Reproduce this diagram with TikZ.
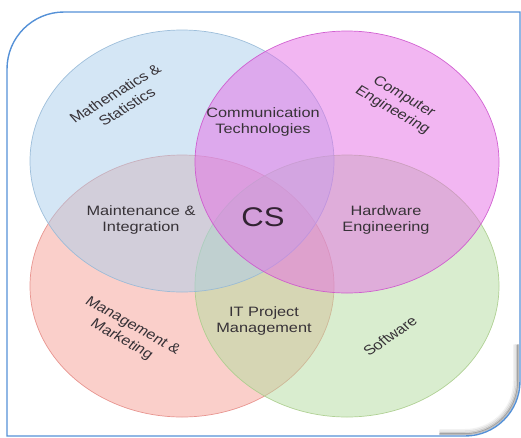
\documentclass[tikz,border=0pt]{standalone}
\usepackage{fontspec}
\setmainfont{Liberation Sans}
\begin{document}
\begin{tikzpicture}[x=1pt,y=-1pt,
  venn/.style={fill opacity=0.5, draw opacity=0.9, line width=0.7pt},
  lbl/.style={text=txt, align=center, font=\fontsize{13.6}{16.5}\selectfont, inner sep=0pt},
  hlbl/.style={lbl, xscale=1.2},
  rlbl/.style={lbl, xscale=1.2}]
\definecolor{framec}{RGB}{85,145,215}
\definecolor{bluef}{RGB}{170,205,235}
\definecolor{blued}{RGB}{150,185,215}
\definecolor{pinkf}{RGB}{230,110,230}
\definecolor{pinkd}{RGB}{205,85,205}
\definecolor{redf}{RGB}{245,160,150}
\definecolor{redd}{RGB}{230,140,135}
\definecolor{greenf}{RGB}{180,220,160}
\definecolor{greend}{RGB}{170,205,140}
\definecolor{txt}{RGB}{55,50,55}
\definecolor{cstxt}{RGB}{50,35,50}
\useasboundingbox (0,0) rectangle (521,437);
% shadow inside bottom-right corner
\foreach \o/\op in {6/0.05,4.5/0.09,3/0.15,1.8/0.25}{
  \draw[black, line width=2pt, opacity=\op, line cap=round]
    (520-\o,345) -- (520-\o,381) .. controls (520-\o,411.4) and (495.4-\o,436-\o) .. (465,436-\o) -- (440,436-\o);
}
% frame
\path[draw=framec, line width=1.4pt]
  (7,436) -- (7,69) .. controls (7,37.5) and (32.5,12) .. (64,12)
  -- (520,12) -- (520,381) .. controls (520,411.4) and (495.4,436) .. (465,436) -- cycle;
% circles
\draw[venn, fill=redf, draw=redd] (182,286) ellipse [x radius=152, y radius=131];
\draw[venn, fill=greenf, draw=greend] (347,286) ellipse [x radius=152, y radius=131];
\draw[venn, fill=bluef, draw=blued] (182,161) ellipse [x radius=152, y radius=131];
\draw[venn, fill=pinkf, draw=pinkd] (347,162) ellipse [x radius=152, y radius=131];
% labels
\node[rlbl, rotate=36] (math) at (121,100) {Mathematics \&\\Statistics};
\node[rlbl, rotate=-35] (comp) at (398,104) {Computer\\Engineering};
\node[rlbl, rotate=-34] (mgmt) at (127,333) {Management \&\\Marketing};
\node[rlbl, rotate=40] (soft) at (390,336) {Software};
\node[hlbl] (comm) at (263,122) {Communication\\Technologies};
\node[hlbl] (maint) at (141,220) {Maintenance \&\\Integration};
\node[hlbl] (hard) at (386,220) {Hardware\\Engineering};
\node[hlbl] (itpm) at (264,321) {IT Project\\Management};
\node[text=cstxt, font=\fontsize{27}{30}\selectfont, xscale=1.15, inner sep=0pt] (cs) at (263,217) {CS};
\end{tikzpicture}
\end{document}
